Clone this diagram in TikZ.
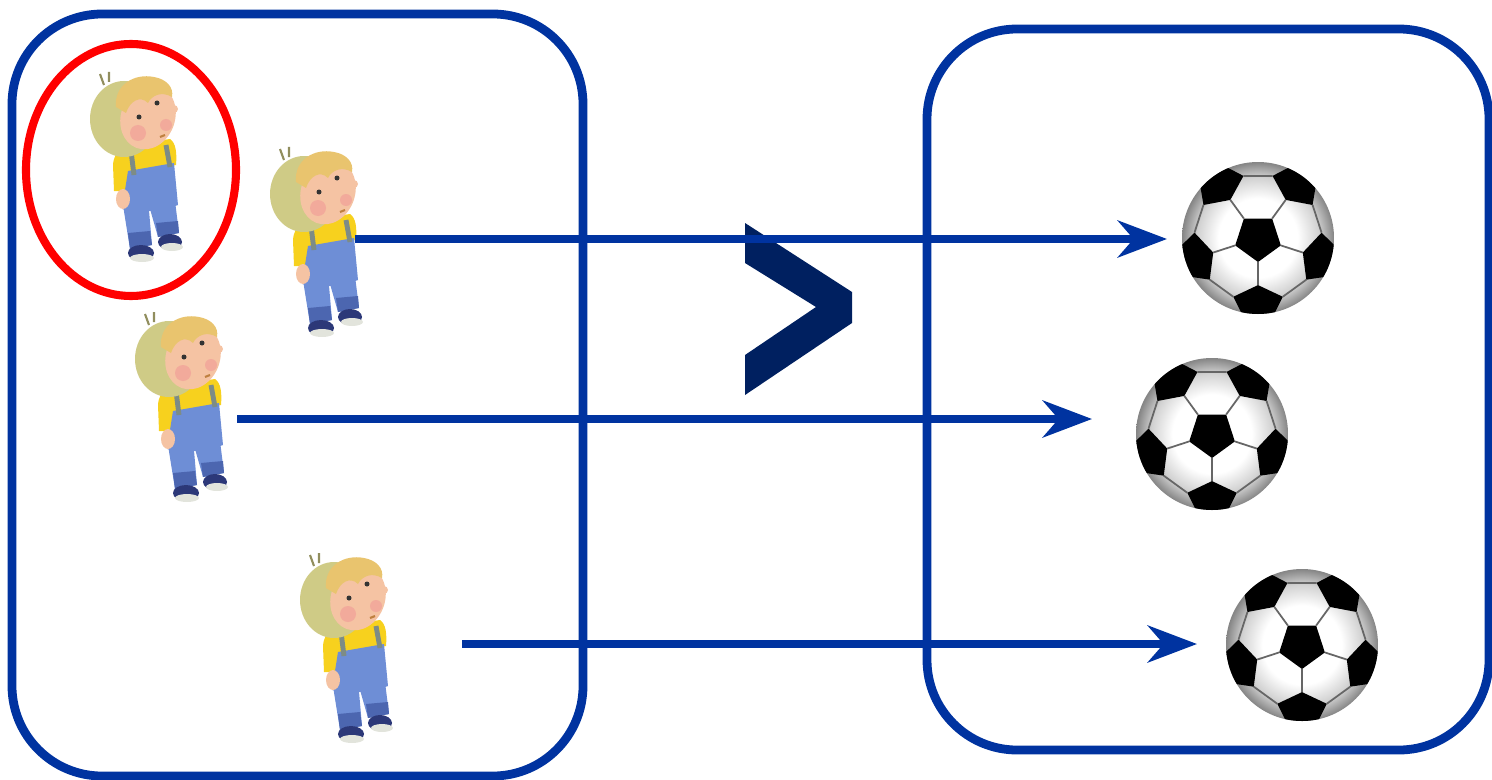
\documentclass[tikz,border=0pt]{standalone}
\usetikzlibrary{arrows.meta}
\definecolor{linkblue}{RGB}{0,51,160}
\definecolor{navy}{RGB}{0,32,96}
\definecolor{hairback}{RGB}{207,203,134}
\definecolor{fringe}{RGB}{233,196,110}
\definecolor{skin}{RGB}{245,195,163}
\definecolor{blush}{RGB}{240,150,150}
\definecolor{shirt}{RGB}{247,209,30}
\definecolor{denim}{RGB}{110,142,214}
\definecolor{denimdark}{RGB}{76,102,176}
\definecolor{strap}{RGB}{125,140,134}
\definecolor{shoe}{RGB}{44,56,120}
\definecolor{sole}{RGB}{226,228,220}
\pgfdeclareradialshading{ballshade}{\pgfpoint{0bp}{0bp}}{color(0bp)=(white); color(13bp)=(white); color(20bp)=(black!18); color(25bp)=(black!48); color(50bp)=(black!48)}
\tikzset{
 kid/.pic={
  % legs
  \fill[denim] (36,126) -- (62,126) -- (66,172) -- (44,176) -- cycle;
  \fill[denim] (60,122) -- (88,120) -- (93,160) -- (72,164) -- cycle;
  \fill[denimdark] (42,160) -- (64,158) -- (66,172) -- (44,176) -- cycle;
  \fill[denimdark] (70,150) -- (92,148) -- (93,160) -- (72,164) -- cycle;
  % shoes
  \fill[shoe] (55,180) ellipse [x radius=13, y radius=8];
  \fill[sole] (56,185) ellipse [x radius=12, y radius=4];
  \fill[shoe] (84,169) ellipse [x radius=12, y radius=8];
  \fill[sole] (86,174) ellipse [x radius=11, y radius=4];
  % shirt and bib
  \fill[shirt] (28,118) -- (27,92) .. controls (28,76) and (40,70) .. (56,70) -- (84,66) .. controls (90,70) and (91,80) .. (90,92) -- (44,100) -- (44,118) -- cycle;
  \fill[denim] (42,98) -- (88,90) -- (92,132) .. controls (75,138) and (55,140) .. (36,136) -- cycle;
  \draw[strap, line width=1.4pt] (45,78) -- (48,102) (80,72) -- (84,94);
  \fill[skin] (37,126) ellipse [x radius=7, y radius=10];
  % head
  \fill[hairback] (38,46) ellipse [x radius=34, y radius=38];
  \fill[skin, rotate around={-20:(62,44)}] (62,44) ellipse [x radius=27, y radius=33];
  \fill[fringe] (30,34) .. controls (28,12) and (48,0) .. (68,4) .. controls (80,6) and (88,14) .. (86,24) .. controls (76,18) and (66,22) .. (62,30) .. controls (54,22) and (44,28) .. (40,40) -- cycle;
  \draw[hairback!70!black, line width=0.6pt] (18,12) -- (14,1) (23,9) -- (23,-1);
  \fill[skin] (88,36) circle (4);
  \fill[blush, opacity=0.55] (52,60) circle (8) (80,52) circle (6);
  \fill[black!80] (53,44) circle (2.5) (71,30) circle (2.5);
  \draw[brown, line width=0.6pt] (74,64) -- (79,62);
 },
 ball/.pic={
  \begin{scope}
   \clip (0,0) circle (76);
   \shade[shading=ballshade] (-76,-76) rectangle (76,76);
   \foreach \a [count=\i] in {90,162,234,306,18}{
    \begin{scope}[shift={(\a:64)}, rotate=-\a, xscale=0.65]
     \fill[black] (180:26) -- (252:26) -- (324:26) -- (36:26) -- (108:26) -- cycle;
     \coordinate (l\i) at (108:26);
     \coordinate (r\i) at (252:26);
     \coordinate (m\i) at (180:26);
    \end{scope}
   }
   \fill[black] (90:24) -- (162:24) -- (234:24) -- (306:24) -- (18:24) -- cycle;
   \foreach \a [count=\i] in {90,162,234,306,18} \draw[seam] (\a:24) -- (m\i);
   \draw[seam] (l1) -- (r2) (l2) -- (r3) (l3) -- (r4) (l4) -- (r5) (l5) -- (r1);
  \end{scope}
 },
 seam/.style={black!60, line width=0.5pt},
 setbox/.style={draw=linkblue, line width=2.5pt, rounded corners=0.9cm},
 link/.style={draw=linkblue, line width=2.2pt, -{Stealth[length=14pt, width=10.5pt, inset=4.5pt]}}
}
\begin{document}
\begin{tikzpicture}[x=0.01cm, y=-0.01cm, line join=round]
 \useasboundingbox (0,0) rectangle (1492,779);
 % the two sets
 \draw[setbox] (12,14) rectangle (583,776);
 \draw[setbox] (927,29) rectangle (1489,750);
 \draw[red, line width=2.3pt] (131,170) ellipse [x radius=105, y radius=126];
 % children
 \pic (kidA) at (86,73) {kid};
 \pic (kidB) at (266,148) {kid};
 \pic (kidC) at (131,313) {kid};
 \pic (kidD) at (296,554) {kid};
 % balls
 \pic (ballA) at (1258,238) {ball};
 \pic (ballB) at (1212,434) {ball};
 \pic (ballC) at (1302,645) {ball};
 % greater than
 \fill[navy] (745,223) -- (852,292) -- (852,323) -- (745,395) -- (745,355) -- (816,307) -- (745,263) -- cycle;
 % mappings
 \coordinate (kidBout) at (355,239);
 \coordinate (kidCout) at (237,419);
 \coordinate (kidDout) at (462,644);
 \coordinate (ballAin) at (1167,239);
 \coordinate (ballBin) at (1092,419);
 \coordinate (ballCin) at (1197,644);
 \draw[link] (kidBout) -- (ballAin);
 \draw[link] (kidCout) -- (ballBin);
 \draw[link] (kidDout) -- (ballCin);
\end{tikzpicture}
\end{document}
